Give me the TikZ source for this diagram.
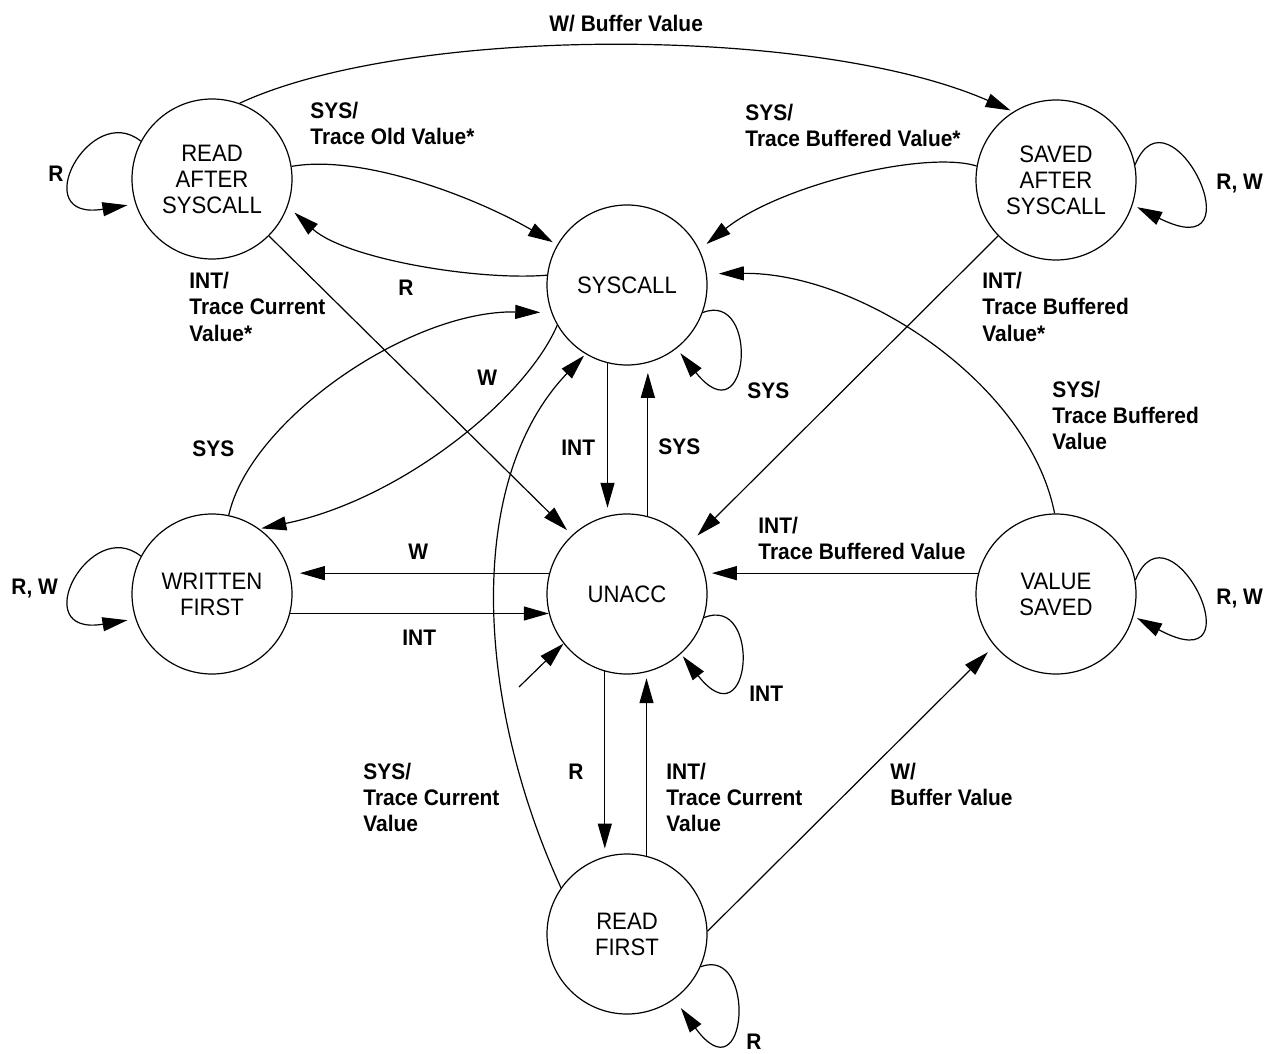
\documentclass[tikz,border=0pt]{standalone}
\usepackage{fontspec}
\setmainfont{Liberation Sans}[FakeStretch=0.93]
\usetikzlibrary{arrows.meta}
\begin{document}
\begin{tikzpicture}[x=0.5pt,y=-0.5pt,
  state/.style={circle, draw, line width=0.6pt, minimum size=80pt, inner sep=0pt,
    align=center, font=\fontsize{11.9}{13}\selectfont},
  tr/.style={draw, line width=0.6pt, -{Triangle[length=12.5pt,width=7pt]}, shorten >=4pt},
  lbl/.style={font=\fontsize{11.25}{13}\selectfont\bfseries, align=left, inner sep=0pt, anchor=base west}]
\fill[white] (0,0) rectangle (1272,1053);
\useasboundingbox (0,0) rectangle (1272,1053);

% states
\node[state] (ras) at (212,179) {READ\\AFTER\\SYSCALL};
\node[state] (sas) at (1056,180) {SAVED\\AFTER\\SYSCALL};
\node[state] (sys) at (627,285) {SYSCALL};
\node[state] (wf)  at (212,594) {WRITTEN\\FIRST};
\node[state] (un)  at (627,594) {UNACC};
\node[state] (vs)  at (1056,594) {VALUE\\SAVED};
\node[state] (rf)  at (627,934) {READ\\FIRST};
\coordinate (init) at (519,687);

% connectors
\draw[tr, shorten >=1.5pt] (ras.70) .. controls (408,25) and (816,25) .. (sas.122);
\draw[tr, shorten >=2.5pt] (ras.9) .. controls (361,154) and (473,196) .. (sys.150);
\draw[tr, shorten >=4.5pt] (sys.173) .. controls (478,281) and (346,259) .. (ras.-20);
\draw[tr, shorten >=3.5pt] (ras.-45) -- (un.133);
\draw[tr, shorten >=2.5pt] (sas.11) .. controls (1170,80) and (1262,270) .. (sas.-18);
\draw[tr, shorten >=4.5pt] (sas.170) .. controls (925,150) and (780,185) .. (sys.26);
\draw[tr, shorten >=5.5pt] (sas.-136) -- (un.39);
\draw[tr, shorten >=6pt] (vs.91) .. controls (1029,383) and (859,272) .. (sys.8);
\draw[tr, shorten >=3pt] (sys.-20) .. controls (760,290) and (750,440) .. (sys.-52);
\draw[tr, shorten >=1pt] (sys.-150) .. controls (525,400) and (400,500) .. (wf.54);
\draw[tr, shorten >=5.5pt] (wf.78) .. controls (250,420) and (410,310) .. (sys.-160);
\draw[tr, shorten >=5pt] (un.165) -- (wf.15);
\draw[tr, shorten >=0pt] (wf.-14) -- (un.194);
\draw[tr, shorten >=4pt] (sys.-104) -- (un.104);
\draw[tr, shorten >=5pt] (un.75) -- (sys.-75);
\draw[tr, shorten >=3.5pt] (vs.165) -- (un.15);
\draw[tr, shorten >=2pt] (vs.10) .. controls (1170,495) and (1262,685) .. (vs.-16);
\draw[tr, shorten >=1.5pt] (un.-17) .. controls (762,594) and (752,744) .. (un.-48);
\draw[tr, shorten >=0pt] (init) -- (un.-142);
\draw[tr, shorten >=4pt] (un.-106) -- (rf.106);
\draw[tr, shorten >=3pt] (rf.76) -- (un.-76);
\draw[tr, shorten >=1pt] (rf.145) .. controls (475,700) and (465,480) .. (sys.-121);
\draw[tr, shorten >=5.5pt] (rf.-24) .. controls (757,945) and (748,1100) .. (rf.-54);
\draw[tr, shorten >=4.5pt] (rf.2) -- (vs.-140);
\draw[tr, shorten >=4pt] (ras.152) .. controls (90,100) and (25,222) .. (ras.-162);
\draw[tr, shorten >=4pt] (wf.152) .. controls (90,515) and (25,637) .. (wf.-162);

% labels (anchor = baseline of the last line)
\node[lbl] (l1) at (549,32) {W/ Buffer Value};
\node[lbl] (l2) at (310,145) {SYS/\\Trace Old Value*};
\node[lbl] (l3) at (189,341) {INT/\\Trace Current\\Value*};
\node[lbl] (l4) at (398,296) {R};
\node[lbl] (l5) at (48,182) {R};
\node[lbl] (l6) at (745,147) {SYS/\\Trace Buffered Value*};
\node[lbl] (l7) at (1216,190) {R, W};
\node[lbl] (l8) at (982,341) {INT/\\Trace Buffered\\Value*};
\node[lbl] (l9) at (747,398) {SYS};
\node[lbl] (l10) at (477,385) {W};
\node[lbl] (l11) at (1052,449) {SYS/\\Trace Buffered\\Value};
\node[lbl] (l12) at (192,456) {SYS};
\node[lbl] (l13) at (561,455) {INT};
\node[lbl] (l14) at (658,454) {SYS};
\node[lbl] (l15) at (408,559) {W};
\node[lbl] (l16) at (402,645) {INT};
\node[lbl] (l17) at (11,594) {R, W};
\node[lbl] (l18) at (758,559) {INT/\\Trace Buffered Value};
\node[lbl] (l19) at (1216,604) {R, W};
\node[lbl] (l20) at (749,701) {INT};
\node[lbl] (l21) at (568,779) {R};
\node[lbl] (l22) at (363,831) {SYS/\\Trace Current\\Value};
\node[lbl] (l23) at (666,831) {INT/\\Trace Current\\Value};
\node[lbl] (l24) at (890,805) {W/\\Buffer Value};
\node[lbl] (l25) at (746,1049) {R};
\end{tikzpicture}
\end{document}
